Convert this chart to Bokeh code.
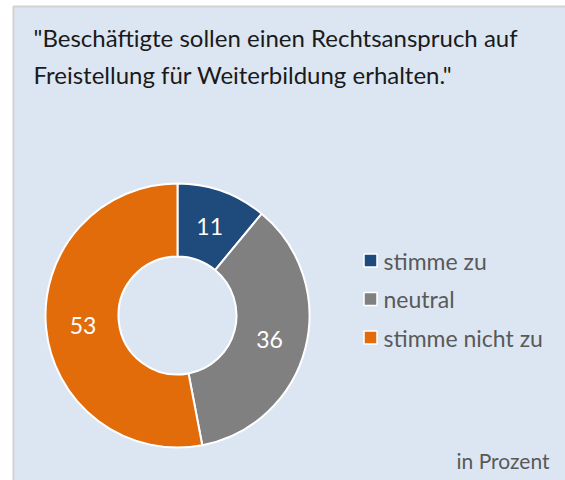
import numpy as np
from bokeh.plotting import figure
from bokeh.models import Range1d, ColumnDataSource
from bokeh.embed import file_html
from bokeh.resources import INLINE
from bokeh.core.properties import value

# ---- data ----
categories = ["stimme zu", "neutral", "stimme nicht zu"]
values = [11, 36, 53]
colors = ["#1f4a7c", "#808080", "#e36c0a"]
title_lines = ['"Beschäftigte sollen einen Rechtsanspruch auf',
               'Freistellung für Weiterbildung erhalten."']
unit_note = "in Prozent"

# ---- layout ----
W, H = 565, 480
FONT = "Lato"


def X(px):
    return px


def Y(py):
    return H - py


p = figure(width=W, height=H, x_range=Range1d(0, W), y_range=Range1d(0, H),
           output_backend="svg", toolbar_location=None, min_border=0)
p.axis.visible = False
p.grid.visible = False
p.outline_line_color = None
p.background_fill_color = "white"
p.border_fill_color = "white"

# panel background
p.quad(left=X(13), right=W + 10, bottom=-10, top=Y(6),
       fill_color="#dce6f2", line_color="#d2d2d2", line_width=2)

# donut
cx, cy = X(177), Y(315)
r_in, r_out = 59, 132
fr = np.array(values, dtype=float) / sum(values)
cum = np.concatenate([[0.0], np.cumsum(fr)])
start = np.pi / 2 - 2 * np.pi * cum[:-1]
end = np.pi / 2 - 2 * np.pi * cum[1:]
mid = (start + end) / 2
# label placement tweak for the largest segment (placed near the left side)
label_ang = mid.copy()
label_ang[2] = np.deg2rad(186)
r_lab = 95
src = ColumnDataSource(dict(start=start, end=end, color=colors, cat=categories,
                            val=[str(v) for v in values],
                            lx=cx + r_lab * np.cos(label_ang),
                            ly=cy + r_lab * np.sin(label_ang)))
p.annular_wedge(x=cx, y=cy, inner_radius=r_in, outer_radius=r_out,
                start_angle="start", end_angle="end", direction="clock",
                fill_color="color", line_color="white", line_width=2, source=src)
p.text(x="lx", y="ly", text="val", source=src, text_color="white",
       text_font=value(FONT), text_font_size="23px", text_align="center",
       text_baseline="middle")

# legend
leg_y = [Y(260 + 38.5 * i) for i in range(len(categories))]
lsrc = ColumnDataSource(dict(y=leg_y, color=colors, cat=categories))
p.scatter(x=X(370), y="y", marker="square", size=13, fill_color="color",
          line_color="white", line_width=1.5, source=lsrc)
p.text(x=X(383), y="y", text="cat", source=lsrc, text_color="#595959",
       text_font=value(FONT), text_font_size="23px", text_align="left",
       text_baseline="middle")

# title
p.text(x=[X(33)] * len(title_lines), y=[Y(37), Y(74)], text=title_lines,
       text_color="#1a1a1a", text_font=value(FONT), text_font_size="24px",
       text_align="left", text_baseline="middle")

# unit note
p.text(x=[X(549)], y=[Y(460)], text=[unit_note], text_color="#595959",
       text_font=value(FONT), text_font_size="21px", text_align="right",
       text_baseline="middle")

open("out.html", "w").write(file_html(p, INLINE))
